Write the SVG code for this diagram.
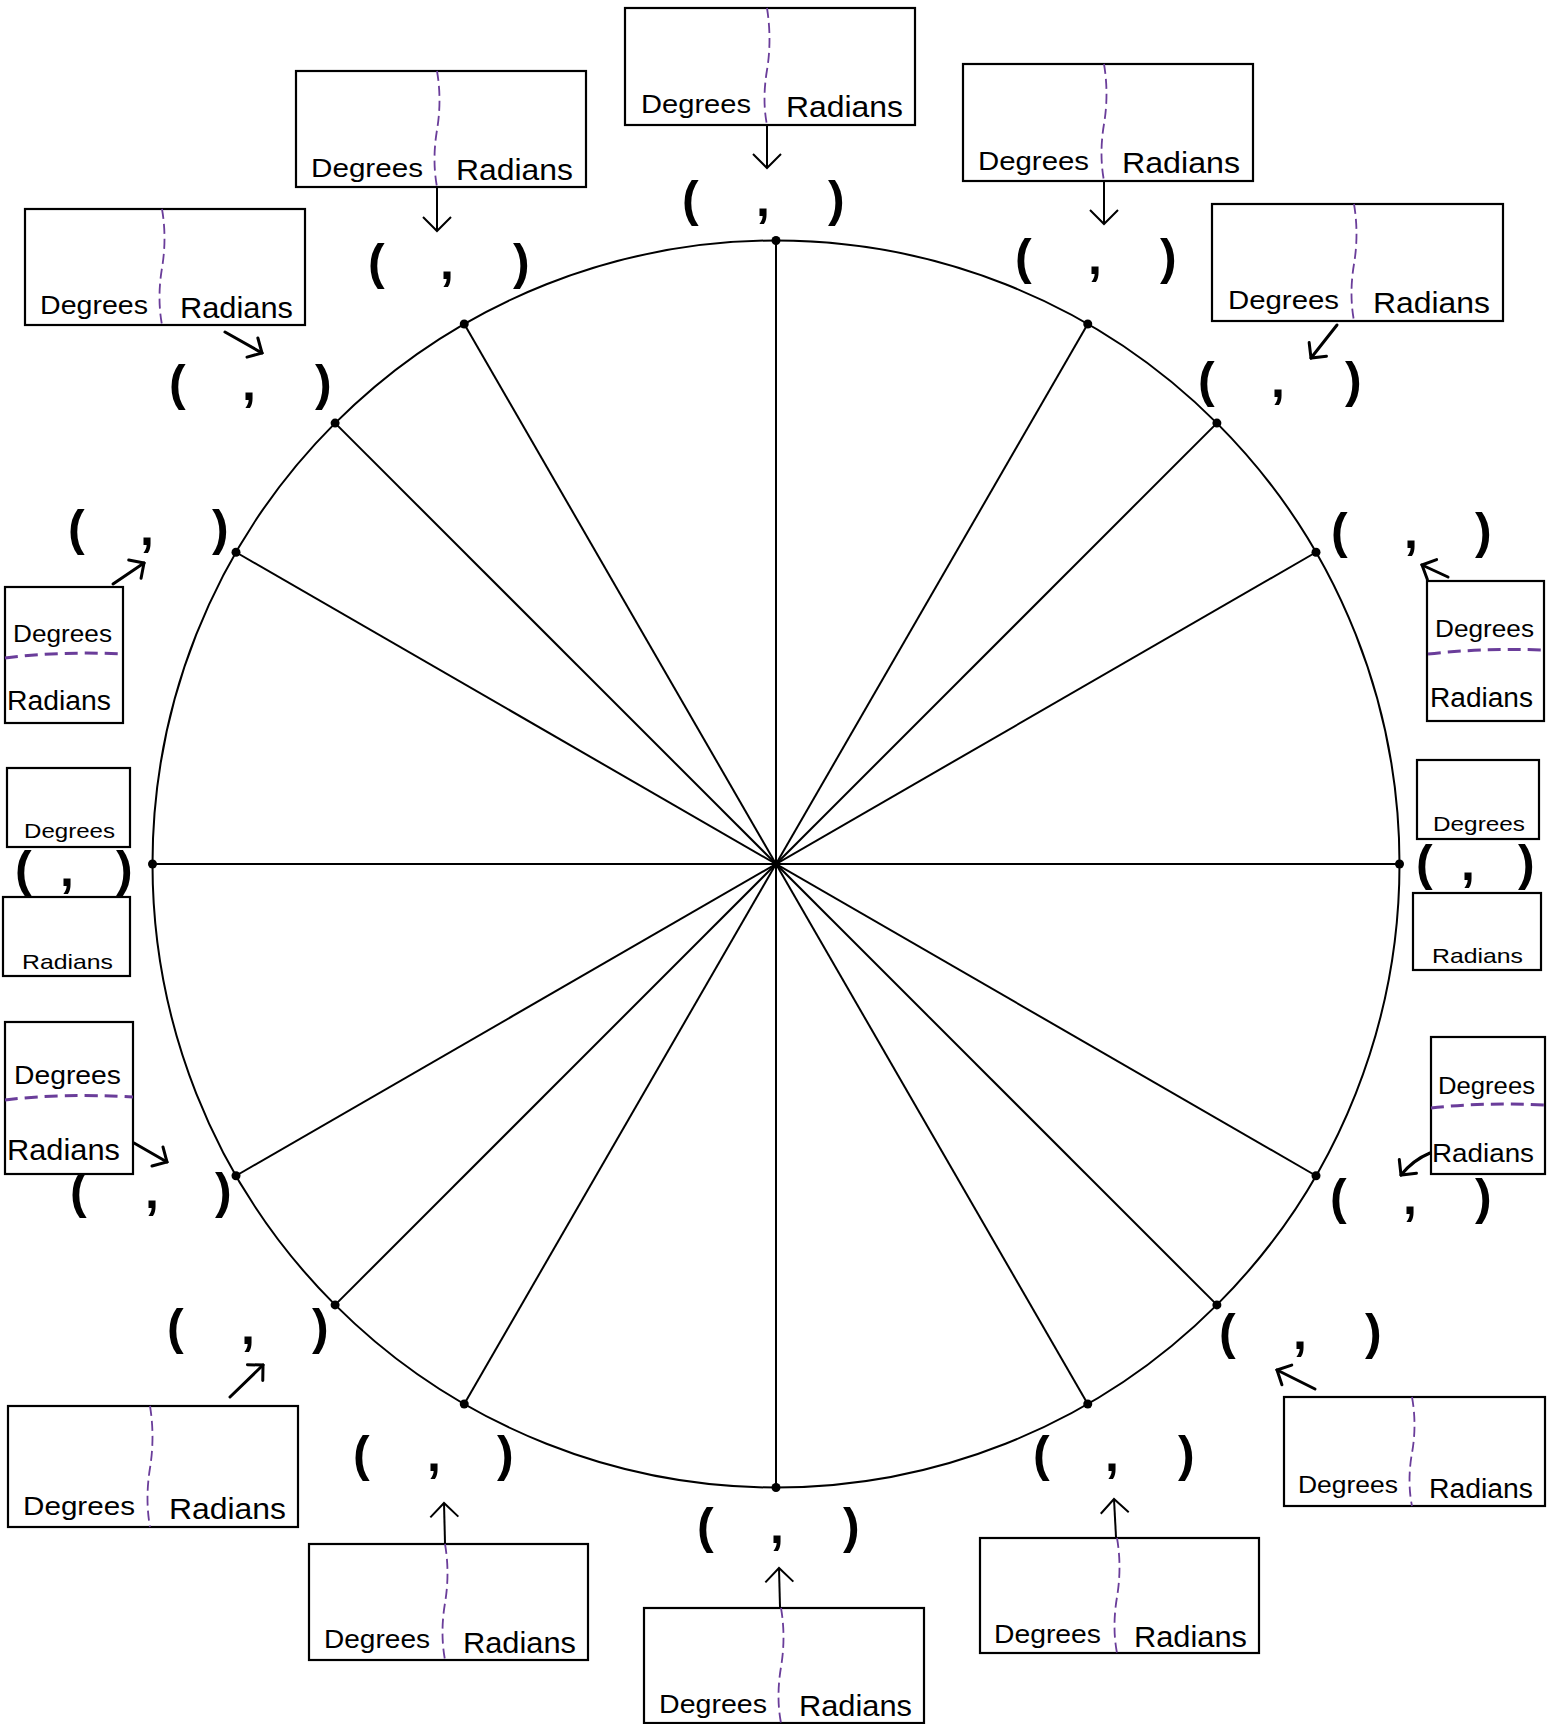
<svg xmlns="http://www.w3.org/2000/svg" width="1556" height="1724" viewBox="0 0 1556 1724">
<defs>
<style>
.circ{fill:none;stroke:#000;stroke-width:2}
.spk{stroke:#000;stroke-width:2}
.dot{fill:#000}
.box{fill:#fff;stroke:#000;stroke-width:2.2}
.vdiv{fill:none;stroke:#6a3d9a;stroke-width:1.8;stroke-dasharray:10 5}
.hdiv{fill:none;stroke:#6a3d9a;stroke-width:3;stroke-dasharray:13 7}
.lbl{font-family:"Liberation Sans",Arial,Helvetica,sans-serif;fill:#000}
.tp{font-family:"Liberation Sans",Arial,sans-serif;font-weight:bold;font-size:50px;fill:#000}
.arr{fill:none;stroke:#000;stroke-width:2;marker-end:url(#ah)}
.arrb{fill:none;stroke:#000;stroke-width:3;stroke-linecap:round;marker-end:url(#ahb)}
</style>
<marker id="ah" viewBox="-16 -16 18 32" markerWidth="18" markerHeight="32" refX="0" refY="0" markerUnits="userSpaceOnUse" orient="auto">
<path d="M-14,-14 L0,0 L-14,14" fill="none" stroke="#000" stroke-width="2"/>
</marker>
<marker id="ahb" viewBox="-14 -14 16 28" markerWidth="16" markerHeight="28" refX="0" refY="0" markerUnits="userSpaceOnUse" orient="auto">
<path d="M-11,-11 L0,0 L-11,11" fill="none" stroke="#000" stroke-width="3" stroke-linecap="round"/>
</marker>
</defs>
<rect x="0" y="0" width="1556" height="1724" fill="#fff"/>

<g id="unit-circle">
<circle class="circ" cx="776" cy="864" r="623.5"/>
<g id="spokes">
<line class="spk" x1="152.5" y1="864" x2="1399.5" y2="864"/>
<line class="spk" x1="776" y1="240.5" x2="776" y2="1487.5"/>
<line class="spk" x1="1316" y1="552.25" x2="236" y2="1175.75"/>
<line class="spk" x1="1216.9" y1="423.1" x2="335.1" y2="1304.9"/>
<line class="spk" x1="1087.75" y1="324" x2="464.25" y2="1404"/>
<line class="spk" x1="464.25" y1="324" x2="1087.75" y2="1404"/>
<line class="spk" x1="335.1" y1="423.1" x2="1216.9" y2="1304.9"/>
<line class="spk" x1="236" y1="552.25" x2="1316" y2="1175.75"/>
</g>
<g id="points">
<circle class="dot" cx="1399.5" cy="864" r="4.5"/>
<circle class="dot" cx="1316" cy="552.25" r="4.5"/>
<circle class="dot" cx="1216.9" cy="423.1" r="4.5"/>
<circle class="dot" cx="1087.75" cy="324" r="4.5"/>
<circle class="dot" cx="776" cy="240.5" r="4.5"/>
<circle class="dot" cx="464.25" cy="324" r="4.5"/>
<circle class="dot" cx="335.1" cy="423.1" r="4.5"/>
<circle class="dot" cx="236" cy="552.25" r="4.5"/>
<circle class="dot" cx="152.5" cy="864" r="4.5"/>
<circle class="dot" cx="236" cy="1175.75" r="4.5"/>
<circle class="dot" cx="335.1" cy="1304.9" r="4.5"/>
<circle class="dot" cx="464.25" cy="1404" r="4.5"/>
<circle class="dot" cx="776" cy="1487.5" r="4.5"/>
<circle class="dot" cx="1087.75" cy="1404" r="4.5"/>
<circle class="dot" cx="1216.9" cy="1304.9" r="4.5"/>
<circle class="dot" cx="1316" cy="1175.75" r="4.5"/>
<circle class="dot" cx="776" cy="864" r="4"/>
</g>
</g>

<g id="tuples">
<text id="t90" class="tp" y="216"><tspan x="682">(</tspan><tspan x="756">,</tspan><tspan x="828">)</tspan></text>
<text id="t120" class="tp" y="279"><tspan x="368">(</tspan><tspan x="440">,</tspan><tspan x="513">)</tspan></text>
<text id="t60" class="tp" y="274"><tspan x="1015">(</tspan><tspan x="1088">,</tspan><tspan x="1160">)</tspan></text>
<text id="t135" class="tp" y="400"><tspan x="169">(</tspan><tspan x="242">,</tspan><tspan x="315">)</tspan></text>
<text id="t45" class="tp" y="397"><tspan x="1198">(</tspan><tspan x="1271">,</tspan><tspan x="1345">)</tspan></text>
<text id="t150" class="tp" y="545"><tspan x="68">(</tspan><tspan x="140">,</tspan><tspan x="212">)</tspan></text>
<text id="t30" class="tp" y="548"><tspan x="1331">(</tspan><tspan x="1404">,</tspan><tspan x="1475">)</tspan></text>
<text id="t180" class="tp" y="886"><tspan x="15">(</tspan><tspan x="60">,</tspan><tspan x="116">)</tspan></text>
<text id="t0" class="tp" y="880"><tspan x="1416">(</tspan><tspan x="1461">,</tspan><tspan x="1518">)</tspan></text>
<text id="t210" class="tp" y="1208"><tspan x="70">(</tspan><tspan x="145">,</tspan><tspan x="215">)</tspan></text>
<text id="t330" class="tp" y="1214"><tspan x="1330">(</tspan><tspan x="1403">,</tspan><tspan x="1475">)</tspan></text>
<text id="t225" class="tp" y="1344"><tspan x="167">(</tspan><tspan x="241">,</tspan><tspan x="312">)</tspan></text>
<text id="t315" class="tp" y="1349"><tspan x="1219">(</tspan><tspan x="1293">,</tspan><tspan x="1365">)</tspan></text>
<text id="t240" class="tp" y="1471"><tspan x="353">(</tspan><tspan x="427">,</tspan><tspan x="497">)</tspan></text>
<text id="t300" class="tp" y="1471"><tspan x="1033">(</tspan><tspan x="1105">,</tspan><tspan x="1178">)</tspan></text>
<text id="t270" class="tp" y="1543"><tspan x="697">(</tspan><tspan x="770">,</tspan><tspan x="843">)</tspan></text>
</g>

<g id="box-90">
<rect class="box" x="625" y="8" width="290" height="117"/>
<path class="vdiv" d="M767,8 Q772,40 767,70 T767,125"/>
<text class="lbl" x="641" y="113" font-size="26" textLength="110" lengthAdjust="spacingAndGlyphs">Degrees</text>
<text class="lbl" x="786" y="117" font-size="29" textLength="117" lengthAdjust="spacingAndGlyphs">Radians</text>
</g>
<g id="box-120">
<rect class="box" x="296" y="71" width="290" height="116"/>
<path class="vdiv" d="M437,71 Q442,100 437,130 T437,187"/>
<text class="lbl" x="311" y="177" font-size="26" textLength="112" lengthAdjust="spacingAndGlyphs">Degrees</text>
<text class="lbl" x="456" y="180" font-size="29" textLength="117" lengthAdjust="spacingAndGlyphs">Radians</text>
</g>
<g id="box-60">
<rect class="box" x="963" y="64" width="290" height="117"/>
<path class="vdiv" d="M1104,64 Q1109,94 1104,124 T1104,181"/>
<text class="lbl" x="978" y="170" font-size="26" textLength="111" lengthAdjust="spacingAndGlyphs">Degrees</text>
<text class="lbl" x="1122" y="173" font-size="29" textLength="118" lengthAdjust="spacingAndGlyphs">Radians</text>
</g>
<g id="box-135">
<rect class="box" x="25" y="209" width="280" height="116"/>
<path class="vdiv" d="M162,209 Q167,238 162,268 T162,325"/>
<text class="lbl" x="40" y="314" font-size="26" textLength="108" lengthAdjust="spacingAndGlyphs">Degrees</text>
<text class="lbl" x="180" y="318" font-size="29" textLength="113" lengthAdjust="spacingAndGlyphs">Radians</text>
</g>
<g id="box-45">
<rect class="box" x="1212" y="204" width="291" height="117"/>
<path class="vdiv" d="M1354,204 Q1359,234 1354,264 T1354,321"/>
<text class="lbl" x="1228" y="309" font-size="26" textLength="111" lengthAdjust="spacingAndGlyphs">Degrees</text>
<text class="lbl" x="1373" y="313" font-size="29" textLength="117" lengthAdjust="spacingAndGlyphs">Radians</text>
</g>
<g id="box-150">
<rect class="box" x="5" y="587" width="118" height="136"/>
<path class="hdiv" d="M5,658 Q60,651 123,654"/>
<text class="lbl" x="13" y="642" font-size="24" textLength="99" lengthAdjust="spacingAndGlyphs">Degrees</text>
<text class="lbl" x="7" y="710" font-size="27" textLength="104" lengthAdjust="spacingAndGlyphs">Radians</text>
</g>
<g id="box-30">
<rect class="box" x="1427" y="581" width="117" height="140"/>
<path class="hdiv" d="M1428,654 Q1480,648 1544,650"/>
<text class="lbl" x="1435" y="637" font-size="24" textLength="99" lengthAdjust="spacingAndGlyphs">Degrees</text>
<text class="lbl" x="1430" y="707" font-size="27" textLength="103" lengthAdjust="spacingAndGlyphs">Radians</text>
</g>
<g id="box-180">
<rect class="box" x="7" y="768" width="123" height="79"/>
<text class="lbl" x="24" y="838" font-size="21" textLength="91" lengthAdjust="spacingAndGlyphs">Degrees</text>
<rect class="box" x="3" y="897" width="127" height="79"/>
<text class="lbl" x="22" y="969" font-size="21" textLength="91" lengthAdjust="spacingAndGlyphs">Radians</text>
</g>
<g id="box-0">
<rect class="box" x="1417" y="760" width="122" height="79"/>
<text class="lbl" x="1433" y="831" font-size="21" textLength="92" lengthAdjust="spacingAndGlyphs">Degrees</text>
<rect class="box" x="1413" y="893" width="128" height="77"/>
<text class="lbl" x="1432" y="963" font-size="21" textLength="91" lengthAdjust="spacingAndGlyphs">Radians</text>
</g>
<g id="box-210">
<rect class="box" x="5" y="1022" width="128" height="152"/>
<path class="hdiv" d="M5,1100 Q60,1093 133,1097"/>
<text class="lbl" x="14" y="1084" font-size="26" textLength="107" lengthAdjust="spacingAndGlyphs">Degrees</text>
<text class="lbl" x="7" y="1160" font-size="29" textLength="113" lengthAdjust="spacingAndGlyphs">Radians</text>
</g>
<g id="box-330">
<rect class="box" x="1431" y="1037" width="114" height="137"/>
<path class="hdiv" d="M1431,1108 Q1485,1102 1545,1105"/>
<text class="lbl" x="1438" y="1094" font-size="24" textLength="97" lengthAdjust="spacingAndGlyphs">Degrees</text>
<text class="lbl" x="1432" y="1162" font-size="26" textLength="102" lengthAdjust="spacingAndGlyphs">Radians</text>
</g>
<g id="box-225">
<rect class="box" x="8" y="1406" width="290" height="121"/>
<path class="vdiv" d="M150,1406 Q155,1437 150,1468 T150,1527"/>
<text class="lbl" x="23" y="1515" font-size="26" textLength="112" lengthAdjust="spacingAndGlyphs">Degrees</text>
<text class="lbl" x="169" y="1519" font-size="29" textLength="117" lengthAdjust="spacingAndGlyphs">Radians</text>
</g>
<g id="box-240">
<rect class="box" x="309" y="1544" width="279" height="116"/>
<path class="vdiv" d="M445,1544 Q450,1573 445,1603 T445,1660"/>
<text class="lbl" x="324" y="1648" font-size="26" textLength="106" lengthAdjust="spacingAndGlyphs">Degrees</text>
<text class="lbl" x="463" y="1653" font-size="29" textLength="113" lengthAdjust="spacingAndGlyphs">Radians</text>
</g>
<g id="box-270">
<rect class="box" x="644" y="1608" width="280" height="115"/>
<path class="vdiv" d="M781,1608 Q786,1637 781,1667 T781,1723"/>
<text class="lbl" x="659" y="1713" font-size="26" textLength="108" lengthAdjust="spacingAndGlyphs">Degrees</text>
<text class="lbl" x="799" y="1716" font-size="29" textLength="113" lengthAdjust="spacingAndGlyphs">Radians</text>
</g>
<g id="box-300">
<rect class="box" x="980" y="1538" width="279" height="115"/>
<path class="vdiv" d="M1117,1538 Q1122,1567 1117,1597 T1117,1653"/>
<text class="lbl" x="994" y="1643" font-size="26" textLength="107" lengthAdjust="spacingAndGlyphs">Degrees</text>
<text class="lbl" x="1134" y="1647" font-size="29" textLength="113" lengthAdjust="spacingAndGlyphs">Radians</text>
</g>
<g id="box-315">
<rect class="box" x="1284" y="1397" width="261" height="109"/>
<path class="vdiv" d="M1412,1397 Q1417,1425 1412,1453 T1412,1506"/>
<text class="lbl" x="1298" y="1493" font-size="24" textLength="100" lengthAdjust="spacingAndGlyphs">Degrees</text>
<text class="lbl" x="1429" y="1498" font-size="27" textLength="104" lengthAdjust="spacingAndGlyphs">Radians</text>
</g>

<g id="connectors">
<line class="arr" x1="767" y1="126" x2="767" y2="168"/>
<line class="arr" x1="437" y1="188" x2="437" y2="231"/>
<line class="arr" x1="1104" y1="182" x2="1104" y2="224"/>
<line class="arrb" x1="225" y1="332" x2="262" y2="353"/>
<line class="arrb" x1="1337" y1="325" x2="1311" y2="358"/>
<line class="arrb" x1="113" y1="584" x2="144" y2="563"/>
<line class="arrb" x1="1448" y1="577" x2="1422" y2="565"/>
<line class="arrb" x1="134" y1="1143" x2="167" y2="1162"/>
<path class="arrb" d="M1430,1153 Q1413,1160 1401,1175"/>
<line class="arrb" x1="230" y1="1397" x2="263" y2="1365"/>
<line class="arr" x1="445" y1="1543" x2="444" y2="1503"/>
<line class="arr" x1="780" y1="1607" x2="779" y2="1568"/>
<line class="arr" x1="1116" y1="1537" x2="1114" y2="1499"/>
<line class="arrb" x1="1315" y1="1389" x2="1277" y2="1370"/>
</g>
</svg>
